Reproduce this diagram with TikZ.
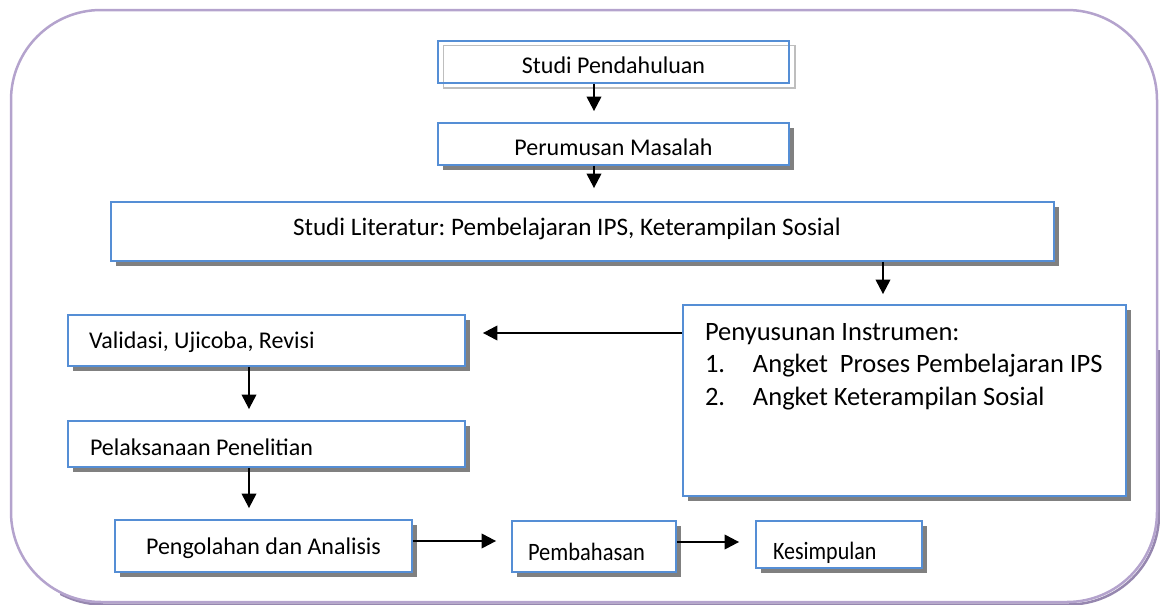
\documentclass[tikz,border=0pt]{standalone}
\usepackage{fontspec}
\setmainfont{Carlito}
\usetikzlibrary{arrows.meta,shadows,calc}
\definecolor{boxblue}{RGB}{85,142,213}
\definecolor{framecol}{RGB}{180,163,205}
\definecolor{frameshadow}{RGB}{150,135,175}
\definecolor{shadowgray}{RGB}{128,128,128}
\definecolor{outlinegray}{RGB}{190,190,190}
\frenchspacing
\begin{document}
\begin{tikzpicture}[x=1pt,y=-1pt,
  box/.style={draw=boxblue, line width=1.8pt, fill=white, inner sep=0pt,
    drop shadow={shadow xshift=5pt, shadow yshift=-5pt, fill=shadowgray, opacity=1}},
  plainbox/.style={draw=boxblue, line width=1.8pt, inner sep=0pt},
  bl/.style={text height=#1, text depth=0pt},
  arr/.style={-{Triangle[length=14.5pt,width=14.5pt]}, line width=2.2pt, black},
  fa/.style={font=\fontsize{24}{29}\selectfont},
]
\useasboundingbox (0,0) rectangle (1160,605);

% outer frame
\begin{scope}
  \clip (60,350) rectangle (1160,605);
  \draw[frameshadow, line width=2.5pt, rounded corners=90pt] (13,12.5) rectangle (1159,604.5);
\end{scope}
\draw[framecol, line width=2.5pt, rounded corners=90pt] (11,10) rectangle (1157,602);

% boxes
\draw[outlinegray, line width=1.5pt] (443.5,45.5) rectangle (795,88);
\node[plainbox, fa, bl=22pt, minimum width=351pt, minimum height=42pt] (sp) at (613.5,62) {Studi Pendahuluan};
\node[box, fa, bl=22pt, minimum width=351pt, minimum height=42pt] (pm) at (613.5,144) {Perumusan Masalah};
\node[box, font=\fontsize{25.2}{30}\selectfont, bl=8pt, minimum width=943pt, minimum height=59pt] (sl) at (582.5,231.5)
  {\makebox[579pt][l]{Studi Literatur: Pembelajaran IPS, Keterampilan Sosial}};
\node[box, minimum width=443pt, minimum height=191pt] (pen) at (904.5,400.5)
  {\parbox[c][191pt][t]{399pt}{\fontsize{26.5}{32.5}\selectfont\vspace*{18pt}%
   Penyusunan Instrumen:\\
   \makebox[48pt][l]{1.}Angket\ \ Proses Pembelajaran IPS\\
   \makebox[48pt][l]{2.}Angket Keterampilan Sosial}};
\node[box, fa, bl=15pt, minimum width=397pt, minimum height=51pt] (val) at (266.5,340.5)
  {\makebox[355pt][l]{Validasi, Ujicoba, Revisi}};
\node[box, fa, bl=22pt, minimum width=397pt, minimum height=46pt] (pel) at (266.5,444)
  {\makebox[353pt][l]{Pelaksanaan Penelitian}};
\node[box, fa, bl=16pt, minimum width=297pt, minimum height=52pt] (peng) at (263.5,546) {Pengolahan dan Analisis};
\node[box, font=\fontsize{25}{30}\selectfont, bl=27pt, minimum width=164pt, minimum height=51pt] (pemb) at (594,546.5)
  {\makebox[132pt][l]{\scalebox{0.9}[1]{Pembahasan}}};
\node[box, font=\fontsize{25}{30}\selectfont, bl=29pt, minimum width=166pt, minimum height=47pt] (kes) at (839,544.5)
  {\makebox[132pt][l]{\scalebox{0.88}[1]{Kesimpulan}}};

% connectors
\draw[arr, shorten >=11pt] ([xshift=-19.5pt]sp.south) -- ([xshift=-19.5pt]pm.north);
\draw[arr, shorten >=13pt] ([xshift=-19.5pt]pm.south) -- ([xshift=-19.5pt]pm.south |- sl.north);
\draw[arr, shorten >=10pt] ([xshift=300.5pt]sl.south) -- ([xshift=300.5pt]sl.south |- pen.north);
\draw[arr, shorten >=17pt] ([yshift=67.5pt]pen.west) -- ([yshift=67.5pt]pen.west -| val.east);
\draw[arr, shorten >=11pt] ([xshift=-17.5pt]val.south) -- ([xshift=-17.5pt]val.south |- pel.north);
\draw[arr, shorten >=11pt] ([xshift=-17.5pt]pel.south) -- ([xshift=-17.5pt]pel.south |- peng.north);
\draw[arr, shorten >=15pt] ([yshift=5pt]peng.east) -- ([yshift=5pt]peng.east -| pemb.west);
\draw[arr, shorten >=16pt] ([yshift=4.5pt]pemb.east) -- ([yshift=4.5pt]pemb.east -| kes.west);
\end{tikzpicture}
\end{document}
